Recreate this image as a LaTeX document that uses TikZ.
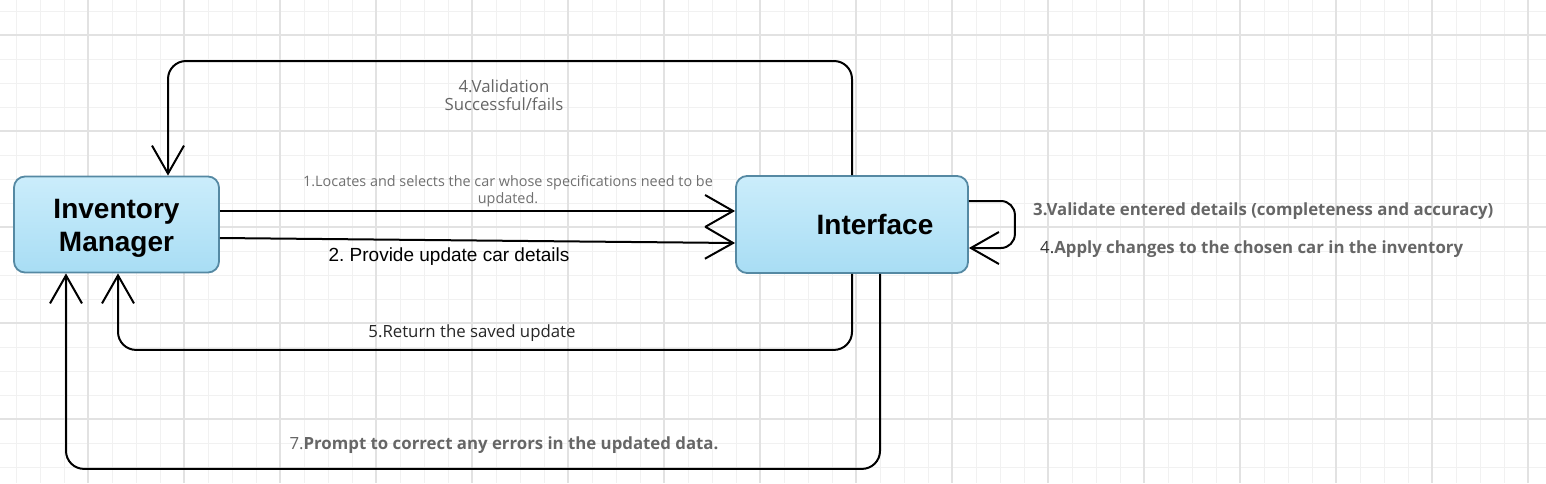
\documentclass[tikz,border=0pt]{standalone}
\usepackage{fontspec}
\setmainfont{Open Sans}
\newfontfamily\helv{Liberation Sans}
\usetikzlibrary{arrows.meta}
\frenchspacing
\definecolor{minorgrid}{HTML}{F1F1F1}
\definecolor{majorgrid}{HTML}{E2E2E2}
\definecolor{boxtop}{HTML}{CBEDFB}
\definecolor{boxbot}{HTML}{A8DDF4}
\definecolor{boxline}{HTML}{5589A3}
\definecolor{labgray}{HTML}{666666}
\definecolor{lightgray}{HTML}{707070}
\tikzset{
  minorline/.style={draw=minorgrid, line width=1pt},
  majorline/.style={draw=majorgrid, line width=1.3pt},
  actorbox/.style={draw=boxline, line width=1.8pt, rounded corners=11pt, top color=boxtop, bottom color=boxbot, align=center, font=\helv\bfseries\fontsize{28}{33}\selectfont, inner sep=0pt},
  conn/.style={draw=black, line width=2pt, rounded corners=18pt, -{Straight Barb[length=28pt, width=32pt, line width=2pt]}},
  lab/.style={font=\fontsize{16.8}{19}\selectfont, text=labgray, align=center, inner sep=0pt},
  boldlab/.style={font=\bfseries\fontsize{16.8}{19}\selectfont, text=labgray, inner sep=0pt}
}
\begin{document}
\begin{tikzpicture}[x=1pt, y=-1pt]
\useasboundingbox (0,0) rectangle (1546,483);
% grid
\foreach \x in {16,40,...,1546} \draw[minorline] (\x,0) -- (\x,483);
\foreach \y in {11,35,...,483} \draw[minorline] (0,\y) -- (1546,\y);
\foreach \x in {88,184,...,1546} \draw[majorline] (\x,0) -- (\x,483);
\foreach \y in {35,131,...,483} \draw[majorline] (0,\y) -- (1546,\y);

% nodes
\node[actorbox, minimum width=205pt, minimum height=96pt] (im) at (116.5,224.5) {\parbox{200pt}{\centering\vspace*{7pt}Inventory\\Manager}};
\node[actorbox, minimum width=232pt, minimum height=97pt] (if) at (852,224.5) {\hspace*{46pt}Interface};

% connectors
\draw[conn] (if.north) -- (if.north |- 0,61) -| ([xshift=51.5pt]im.north);
\draw[conn] ([yshift=13.5pt]im.east) -- ([yshift=13.5pt]if.west);
\draw[conn] ([yshift=-13.5pt]im.east) -- ([yshift=-18.5pt]if.west);
\draw[conn, rounded corners=14pt] ([yshift=23.5pt]if.east) -- ++(46,0) |- ([yshift=-23.5pt]if.east);
\draw[conn] (if.south) -- ++(0,76) -| ([xshift=1.5pt]im.south);
\draw[conn] ([xshift=28pt]if.south) -- ++(0,195) -| ([xshift=-50.5pt]im.south);

% labels
\node[lab] (l4v) at (504,95) {4.Validation\\[-1pt]Successful/fails};
\node[lab, text=lightgray, font=\fontsize{14.4}{17}\selectfont] (l1) at (508,191.5) {1.Locates and selects the car whose specifications need to be\\updated.};
\node[lab, text=black, font=\helv\fontsize{19}{22}\selectfont] (l2) at (449,257) {2. Provide update car details};
\node[boldlab, anchor=west] (l3) at (1033,211) {3.Validate entered details (completeness and accuracy)};
\node[boldlab, anchor=west] (l4a) at (1040,249) {{\mdseries\color{black!80}4.}Apply changes to the chosen car in the inventory};
\node[lab, text=black!85] (l5) at (472,333) {5.Return the saved update};
\node[boldlab] (l7) at (504,445) {{\mdseries 7.}Prompt to correct any errors in the updated data.};
\end{tikzpicture}
\end{document}
